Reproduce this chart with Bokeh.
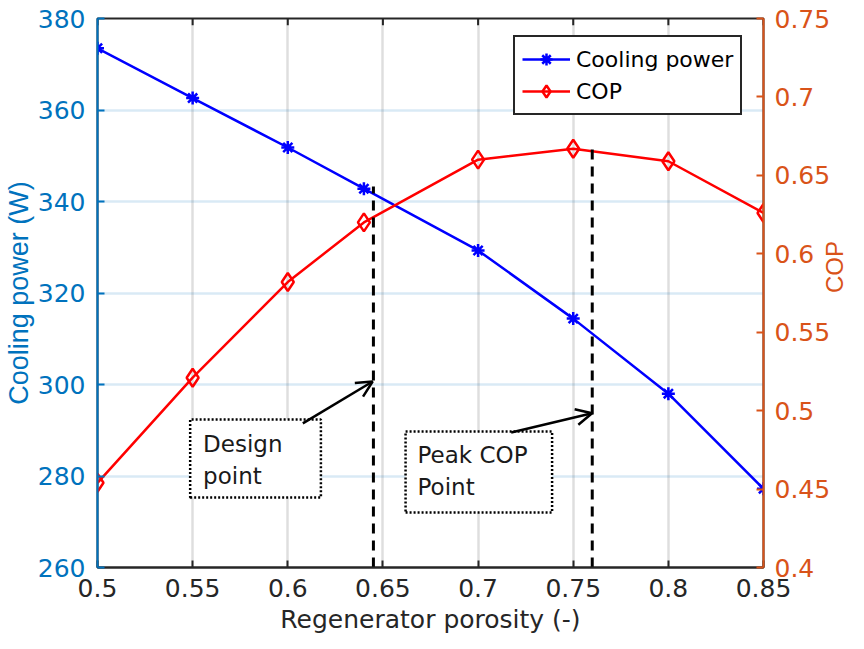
import math
from bokeh.plotting import figure
from bokeh.models import (Range1d, LinearAxis, FixedTicker, Legend, LegendItem,
                          Label, PolyAnnotation, Arrow, OpenHead, ColumnDataSource)
from bokeh.embed import file_html
from bokeh.resources import INLINE

# ---------------- data ----------------
porosity = [0.5, 0.55, 0.6, 0.64, 0.7, 0.75, 0.8, 0.85]
cooling_power = [373.5, 362.6, 351.8, 342.8, 329.3, 314.4, 298.0, 277.2]
cop = [0.454, 0.521, 0.582, 0.620, 0.660, 0.667, 0.659, 0.626]

x_ticks = [0.5, 0.55, 0.6, 0.65, 0.7, 0.75, 0.8, 0.85]
x_tick_labels = ["0.5", "0.55", "0.6", "0.65", "0.7", "0.75", "0.8", "0.85"]
y_ticks = [260, 280, 300, 320, 340, 360, 380]
cop_ticks = [0.4, 0.45, 0.5, 0.55, 0.6, 0.65, 0.7, 0.75]
cop_tick_labels = ["0.4", "0.45", "0.5", "0.55", "0.6", "0.65", "0.7", "0.75"]

design_x = 0.645
design_top = 343.3
peak_x = 0.76
peak_top = 0.667

# annotation geometry (data units of the left axis)
design_box_x = [0.5487, 0.6174]
design_box_y = [275.3, 292.35]
peak_box_x = [0.6619, 0.7389]
peak_box_y = [272.0, 289.7]
design_arrow = (0.6079, 291.5, 0.6446, 300.65)
peak_arrow = (0.7174, 289.5, 0.7599, 293.7)

BLUE_AX = "#0072BD"
ORANGE_AX = "#D95319"
FONT = "DejaVu Sans"
VFONT = "Liberation Sans"
TICK_FS = "25px"

W, H = 864, 647
p = figure(width=W, height=H, output_backend="svg", toolbar_location=None,
           x_range=Range1d(0.5, 0.85), y_range=Range1d(260, 380),
           min_border_left=97, min_border_right=W - 765, min_border_top=18,
           min_border_bottom=H - 567)
p.extra_y_ranges = {"cop": Range1d(0.4, 0.75)}
p.outline_line_color = "#262626"
p.outline_line_width = 2
p.outline_line_alpha = 1.0
p.background_fill_color = "white"
p.border_fill_color = "white"

# grids
p.xgrid.ticker = FixedTicker(ticks=x_ticks)
p.ygrid.ticker = FixedTicker(ticks=y_ticks)
p.xgrid.grid_line_color = "#000000"
p.xgrid.grid_line_alpha = 0.13
p.xgrid.grid_line_width = 2.5
p.ygrid.grid_line_color = BLUE_AX
p.ygrid.grid_line_alpha = 0.15
p.ygrid.grid_line_width = 2.5

def style_axis(ax, color, label_font, label_fs):
    ax.axis_line_color = color
    ax.axis_line_width = 2
    ax.major_tick_line_color = color
    ax.major_tick_line_width = 2
    ax.major_tick_in = 7
    ax.major_tick_out = 0
    ax.minor_tick_line_color = None
    ax.major_label_text_color = color
    ax.major_label_text_font = FONT
    ax.major_label_text_font_size = TICK_FS
    ax.axis_label_text_color = color
    ax.axis_label_text_font = label_font
    ax.axis_label_text_font_size = label_fs
    ax.axis_label_text_font_style = "normal"

# bottom axis
xa = p.xaxis[0]
xa.ticker = FixedTicker(ticks=x_ticks)
xa.major_label_overrides = dict(zip(x_ticks, x_tick_labels))
style_axis(xa, "#262626", FONT, "25px")
xa.axis_label = "Regenerator porosity (-)"
xa.major_label_standoff = 11
xa.axis_label_standoff = 5

# left axis
ya = p.yaxis[0]
ya.ticker = FixedTicker(ticks=y_ticks)
style_axis(ya, BLUE_AX, VFONT, "27px")
ya.axis_label = "Cooling power (W)"
ya.major_label_standoff = 12
ya.axis_label_standoff = 1

# right axis
ra = LinearAxis(y_range_name="cop", ticker=FixedTicker(ticks=cop_ticks),
                axis_label="COP")
ra.major_label_overrides = dict(zip(cop_ticks, cop_tick_labels))
style_axis(ra, ORANGE_AX, VFONT, "24px")
ra.major_label_standoff = 11
ra.axis_label_standoff = 1
ra.axis_label_orientation = math.pi / 2
p.add_layout(ra, "right")

# top box ticks (inward), at the x tick positions
top_tick_len = 1.5
p.segment(x0=x_ticks, y0=[380] * len(x_ticks), x1=x_ticks,
          y1=[380 - top_tick_len] * len(x_ticks), line_color="#262626",
          line_width=2)

# data
src = ColumnDataSource(dict(x=porosity, cp=cooling_power, cop=cop))
l1 = p.line("x", "cp", source=src, color="#0000FF", line_width=2.5)
m1 = p.scatter("x", "cp", source=src, marker="asterisk", size=13,
               line_color="#0000FF", line_width=2.5)
l2 = p.line("x", "cop", source=src, color="#FF0000", line_width=2.5, y_range_name="cop")
m2 = p.scatter("x", "cop", source=src, marker="diamond", size=18,
               line_color="#FF0000", fill_color=None, line_width=2.5,
               y_range_name="cop")

# dashed reference lines
p.line([design_x, design_x], [260, design_top], color="black", line_width=3,
       line_dash="10 7")
p.line([peak_x, peak_x], [0.4, peak_top], color="black", line_width=3,
       line_dash="10 7", y_range_name="cop")

# annotation boxes
for bx, by in ((design_box_x, design_box_y), (peak_box_x, peak_box_y)):
    p.add_layout(PolyAnnotation(xs=[bx[0], bx[1], bx[1], bx[0]],
                                ys=[by[0], by[0], by[1], by[1]],
                                fill_color="white", fill_alpha=1.0,
                                line_color="black", line_alpha=1.0,
                                line_width=2.5, line_dash="2 2"))

for (x0, y0, x1, y1) in (design_arrow, peak_arrow):
    p.add_layout(Arrow(x_start=x0, y_start=y0, x_end=x1, y_end=y1,
                       line_color="black", line_width=2.5,
                       end=OpenHead(size=16, line_color="black", line_width=2.5)))

def txt(x, y, s):
    p.add_layout(Label(x=x, y=y, text=s, text_font=FONT, text_font_size="23px",
                       text_color="#1a1a1a", text_baseline="middle",
                       text_align="left"))

txt(0.5555, 287.1, "Design")
txt(0.5555, 280.1, "point")
txt(0.6682, 284.5, "Peak COP")
txt(0.6682, 277.5, "Point")

# legend
legend = Legend(items=[LegendItem(label="Cooling power", renderers=[l1, m1]),
                       LegendItem(label="COP", renderers=[l2, m2])],
                location=(416, 452))
legend.label_text_font = FONT
legend.label_text_font_size = "22px"
legend.label_text_color = "black"
legend.border_line_color = "#262626"
legend.border_line_alpha = 1.0
legend.border_line_width = 2.5
legend.background_fill_alpha = 1.0
legend.glyph_width = 48
legend.glyph_height = 30
legend.label_height = 30
legend.spacing = 2
legend.padding = 7
legend.margin = 0
legend.label_standoff = 6
p.add_layout(legend, "center")

open("out.html", "w").write(file_html(p, INLINE))
